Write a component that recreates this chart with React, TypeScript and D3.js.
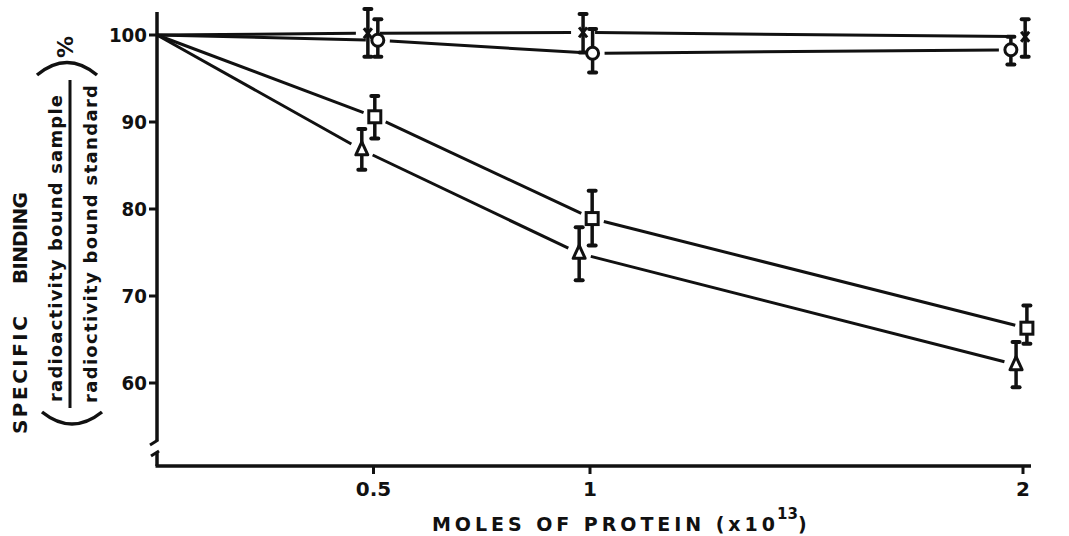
import React from "react";
import * as d3 from "d3";

// ---------- data ----------
const xTicks = [0.5, 1, 2];
const xTickLabels = ["0.5", "1", "2"];
const yTicks = [60, 70, 80, 90, 100];
const yTickLabels = ["60", "70", "80", "90", "100"];

// cross series (x)
const crossX = [0, 0.487, 0.984, 2.005];
const crossY = [100, 100.2, 100.3, 99.8];
const crossLo = [null, 97.5, 98.0, 97.5];
const crossHi = [null, 103.0, 102.4, 101.8];

// circle series (o)
const circX = [0, 0.51, 1.006, 1.972];
const circY = [100, 99.4, 97.9, 98.3];
const circLo = [null, 97.5, 95.7, 96.6];
const circHi = [null, 101.8, 100.7, 99.8];

// square series
const sqX = [0, 0.503, 1.005, 2.009];
const sqY = [100, 90.6, 78.9, 66.3];
const sqLo = [null, 88.1, 75.8, 64.5];
const sqHi = [null, 93.0, 82.1, 68.9];

// triangle series
const triX = [0, 0.473, 0.975, 1.984];
const triY = [100, 86.8, 74.9, 62.1];
const triLo = [null, 84.5, 71.8, 59.5];
const triHi = [null, 89.2, 77.9, 64.7];

const W = 1069;
const H = 536;
const x = d3.scaleLinear().domain([0, 2]).range([157, 1023]);
const y = d3.scaleLinear().domain([60, 100]).range([383, 35]);

const INK = "#111";
const FONT = "'DejaVu Sans', Verdana, sans-serif";

type Series = { xs: number[]; ys: number[]; lo: (number | null)[]; hi: (number | null)[]; kind: string };
const series: Series[] = [
  { xs: crossX, ys: crossY, lo: crossLo, hi: crossHi, kind: "cross" },
  { xs: circX, ys: circY, lo: circLo, hi: circHi, kind: "circle" },
  { xs: sqX, ys: sqY, lo: sqLo, hi: sqHi, kind: "square" },
  { xs: triX, ys: triY, lo: triLo, hi: triHi, kind: "triangle" },
];

function segments(s: Series) {
  const out: JSX.Element[] = [];
  for (let i = 0; i < s.xs.length - 1; i++) {
    const x1 = x(s.xs[i]), y1 = y(s.ys[i]);
    const x2 = x(s.xs[i + 1]), y2 = y(s.ys[i + 1]);
    const len = Math.hypot(x2 - x1, y2 - y1);
    const ux = (x2 - x1) / len, uy = (y2 - y1) / len;
    const g1 = i === 0 ? 0 : 12;
    const g2 = 12;
    out.push(
      <line key={s.kind + i} x1={x1 + ux * g1} y1={y1 + uy * g1} x2={x2 - ux * g2} y2={y2 - uy * g2}
        stroke={INK} strokeWidth={3} />
    );
  }
  return out;
}

function marker(kind: string, cx: number, cy: number, key: string) {
  if (kind === "circle") return <circle key={key} cx={cx} cy={cy} r={6} fill="#fff" stroke={INK} strokeWidth={3} />;
  if (kind === "square") return <rect key={key} x={cx - 6} y={cy - 6} width={12} height={12} fill="#fff" stroke={INK} strokeWidth={3} />;
  if (kind === "triangle") {
    const p = `${cx},${cy - 8} ${cx - 6},${cy + 5} ${cx + 6},${cy + 5}`;
    return <polygon key={key} points={p} fill="#fff" stroke={INK} strokeWidth={3} strokeLinejoin="round" />;
  }
  return (
    <g key={key}>
      <line x1={cx - 4} y1={cy - 5} x2={cx + 4} y2={cy + 5} stroke={INK} strokeWidth={3} />
      <line x1={cx + 4} y1={cy - 5} x2={cx - 4} y2={cy + 5} stroke={INK} strokeWidth={3} />
    </g>
  );
}

function errorBars(s: Series) {
  const out: JSX.Element[] = [];
  s.xs.forEach((xv, i) => {
    const lo = s.lo[i], hi = s.hi[i];
    if (lo == null || hi == null) return;
    const cx = x(xv);
    out.push(
      <g key={s.kind + "e" + i}>
        <line x1={cx} y1={y(hi)} x2={cx} y2={y(lo)} stroke={INK} strokeWidth={3.5} />
        <line x1={cx - 3.5} y1={y(hi)} x2={cx + 3.5} y2={y(hi)} stroke={INK} strokeWidth={4} strokeLinecap="round" />
        <line x1={cx - 3.5} y1={y(lo)} x2={cx + 3.5} y2={y(lo)} stroke={INK} strokeWidth={4} strokeLinecap="round" />
      </g>
    );
  });
  return out;
}

export default function App() {
  const axX = x(0);
  const axisY = 466;
  return (
    <svg width={W} height={H} style={{ position: "absolute", left: 0, top: 0, background: "#fff" }}
      fontFamily={FONT}>
      <rect width={W} height={H} fill="#fff" />
      {/* y axis with break */}
      <line x1={axX} y1={12} x2={axX} y2={441} stroke={INK} strokeWidth={3.5} />
      <path d={`M${axX - 7},${445} L${axX + 1},${440}`} stroke={INK} strokeWidth={3} fill="none" />
      <path d={`M${axX - 6},${456} L${axX + 2},${451}`} stroke={INK} strokeWidth={3} fill="none" />
      <line x1={axX} y1={452} x2={axX} y2={axisY} stroke={INK} strokeWidth={3.5} />
      {/* x axis */}
      <line x1={axX - 1.5} y1={axisY} x2={1031} y2={axisY} stroke={INK} strokeWidth={3.5} />

      {/* y ticks */}
      {yTicks.map((t, i) => (
        <g key={"yt" + i}>
          <line x1={axX - 8} y1={y(t)} x2={axX} y2={y(t)} stroke={INK} strokeWidth={3} />
          <text x={axX - 10} y={y(t)} dy="0.36em" textAnchor="end" fontSize={20} fontWeight="bold" fill={INK}
            textLength={yTickLabels[i].length * 12.7} lengthAdjust="spacingAndGlyphs">
            {yTickLabels[i]}
          </text>
        </g>
      ))}
      {/* x ticks */}
      {xTicks.map((t, i) => (
        <g key={"xt" + i}>
          <line x1={x(t)} y1={axisY} x2={x(t)} y2={axisY + 8} stroke={INK} strokeWidth={3} />
          <text x={x(t)} y={axisY + 30} textAnchor="middle" fontSize={20} fontWeight="bold" fill={INK}>
            {xTickLabels[i]}
          </text>
        </g>
      ))}

      {/* x axis title */}
      <text x={432} y={531} fontSize={19} fontWeight="bold" fill={INK} textLength={343} lengthAdjust="spacing">
        MOLES OF PROTEIN (x10
      </text>
      <text x={777} y={519} fontSize={15} fontWeight="bold" fill={INK}>13</text>
      <text x={798} y={531} fontSize={19} fontWeight="bold" fill={INK}>)</text>

      {/* y axis title */}
      <text transform="translate(27,434) rotate(-90)" fontSize={20} fontWeight="bold" fill={INK}
        textLength={118} lengthAdjust="spacing">
        SPECIFIC
      </text>
      <text transform="translate(27,284) rotate(-90)" fontSize={20} fontWeight="bold" fill={INK}
        textLength={92} lengthAdjust="spacing">
        BINDING
      </text>
      <text transform="translate(62,402) rotate(-90)" fontSize={18} fontWeight="bold" fill={INK}
        textLength={307} lengthAdjust="spacing">
        radioactivity bound sample
      </text>
      <line x1={70} y1={80} x2={70} y2={408} stroke={INK} strokeWidth={3} />
      <text transform="translate(97,403) rotate(-90)" fontSize={18} fontWeight="bold" fill={INK}
        textLength={318} lengthAdjust="spacing">
        radioctivity bound standard
      </text>
      <path d="M37,75 Q67,50 97,75" stroke={INK} strokeWidth={3.5} fill="none" />
      <path d="M42,412 Q72,436 102,412" stroke={INK} strokeWidth={3.5} fill="none" />
      <text transform="translate(73,47) rotate(-90)" textAnchor="middle" fontSize={22} fontWeight="bold" fill={INK}>%</text>

      {/* data */}
      {series.map((s) => <g key={s.kind + "l"}>{segments(s)}</g>)}
      {series.map((s) => <g key={s.kind + "eb"}>{errorBars(s)}</g>)}
      {series.map((s) => (
        <g key={s.kind + "m"}>
          {s.xs.map((xv, i) => (i === 0 ? null : marker(s.kind, x(xv), y(s.ys[i]), s.kind + "m" + i)))}
        </g>
      ))}
    </svg>
  );
}
